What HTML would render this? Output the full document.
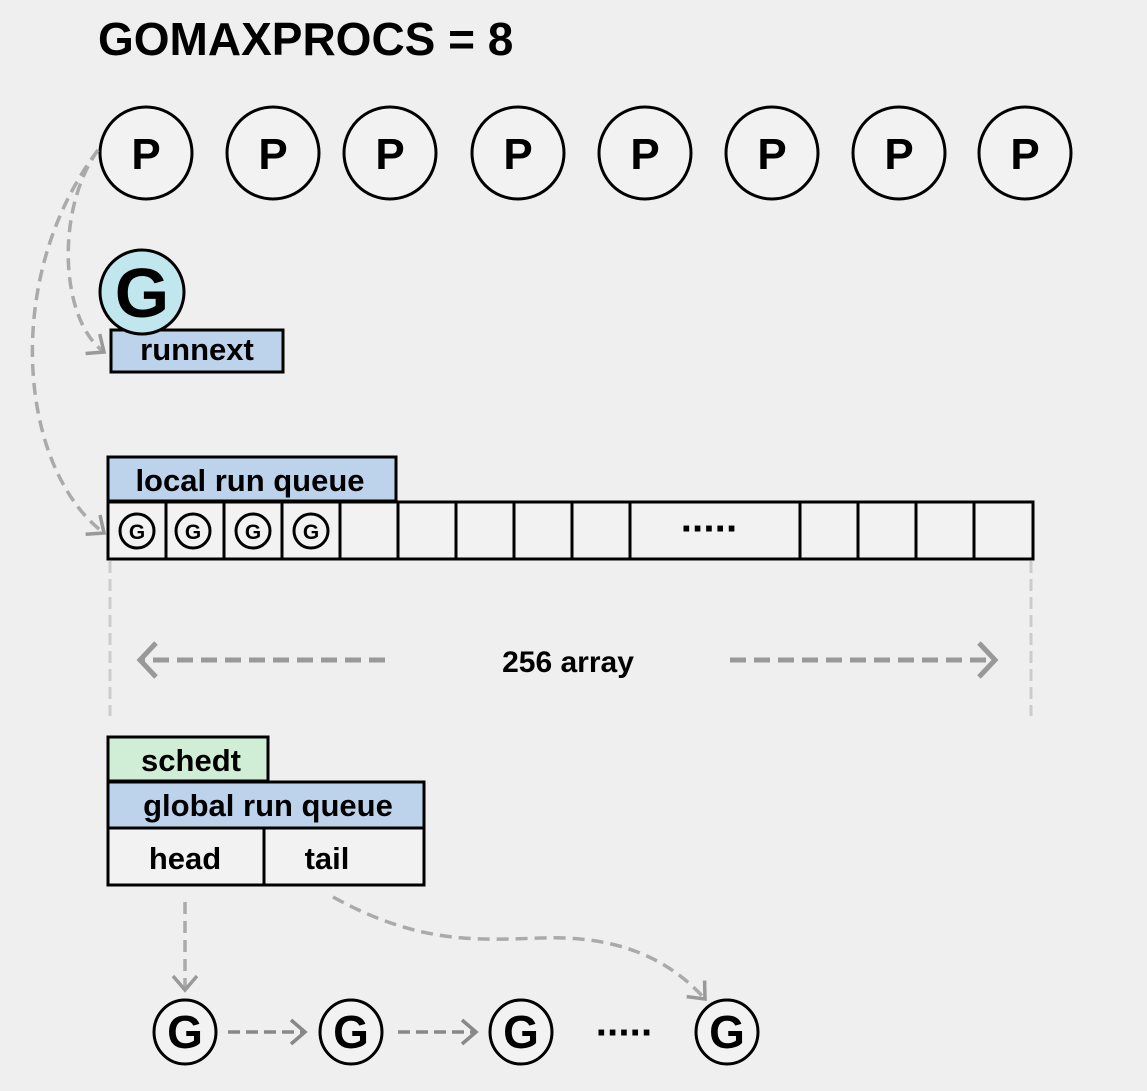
<!DOCTYPE html>
<html><head><style>
html,body{margin:0;padding:0;background:#efefef;}
svg{display:block;}
text{font-family:"Liberation Sans",Arial,sans-serif;font-weight:bold;fill:#000;}
</style></head><body>
<svg width="1147" height="1091" viewBox="0 0 1147 1091" xmlns="http://www.w3.org/2000/svg">
<defs>
<marker id="ah2" markerWidth="26" markerHeight="40" refX="20" refY="20" orient="auto" markerUnits="userSpaceOnUse" viewBox="0 0 26 40">
<path d="M4,3 L20,20 L4,37" fill="none" stroke="#999" stroke-width="5"/></marker>
<marker id="ah3" markerWidth="24" markerHeight="30" refX="18" refY="15" orient="auto" markerUnits="userSpaceOnUse" viewBox="0 0 24 30">
<path d="M4,3 L18,15 L4,27" fill="none" stroke="#999" stroke-width="3.5"/></marker>
<marker id="ah4" markerWidth="24" markerHeight="30" refX="18" refY="15" orient="auto" markerUnits="userSpaceOnUse" viewBox="0 0 24 30">
<path d="M4,3 L18,15 L4,27" fill="none" stroke="#888" stroke-width="3.5"/></marker>
</defs>
<rect width="1147" height="1091" fill="#efefef"/>
<text x="98" y="55" font-size="46">GOMAXPROCS = 8</text>
<g stroke="#000" stroke-width="3" fill="#f2f2f2">
<circle cx="146" cy="153" r="46"/><circle cx="273" cy="153" r="46"/><circle cx="390" cy="153" r="46"/><circle cx="518" cy="153" r="46"/>
<circle cx="645" cy="153" r="46"/><circle cx="772" cy="153" r="46"/><circle cx="899" cy="153" r="46"/><circle cx="1025" cy="153" r="46"/>
</g>
<g font-size="44" text-anchor="middle">
<text x="146" y="169">P</text><text x="273" y="169">P</text><text x="390" y="169">P</text><text x="518" y="169">P</text>
<text x="645" y="169">P</text><text x="772" y="169">P</text><text x="899" y="169">P</text><text x="1025" y="169">P</text>
</g>
<path d="M98,150 C55,210 60,320 104,352" fill="none" stroke="#aaa" stroke-width="3.5" stroke-dasharray="12,7" marker-end="url(#ah3)"/>
<path d="M98,150 C0,280 20,470 104,533" fill="none" stroke="#aaa" stroke-width="3.5" stroke-dasharray="12,7" marker-end="url(#ah3)"/>
<rect x="111" y="330" width="172" height="42" fill="#bdd3ec" stroke="#000" stroke-width="3"/>
<text x="197" y="360" font-size="31" text-anchor="middle">runnext</text>
<circle cx="142" cy="292" r="42" fill="#c0e6ee" stroke="#000" stroke-width="3"/>
<text x="142" y="317" font-size="70" text-anchor="middle">G</text>
<rect x="108" y="457" width="288" height="44" fill="#bdd3ec" stroke="#000" stroke-width="3"/>
<text x="250" y="491" font-size="31" text-anchor="middle">local run queue</text>
<rect x="108" y="502" width="925" height="57" fill="#f2f2f2" stroke="#000" stroke-width="3"/>
<g stroke="#000" stroke-width="3">
<line x1="166" y1="502" x2="166" y2="559"/><line x1="224" y1="502" x2="224" y2="559"/><line x1="282" y1="502" x2="282" y2="559"/>
<line x1="340" y1="502" x2="340" y2="559"/><line x1="398" y1="502" x2="398" y2="559"/><line x1="456" y1="502" x2="456" y2="559"/>
<line x1="514" y1="502" x2="514" y2="559"/><line x1="572" y1="502" x2="572" y2="559"/><line x1="630" y1="502" x2="630" y2="559"/>
<line x1="800" y1="502" x2="800" y2="559"/><line x1="858" y1="502" x2="858" y2="559"/><line x1="916" y1="502" x2="916" y2="559"/>
<line x1="974" y1="502" x2="974" y2="559"/>
</g>
<g stroke="#000" stroke-width="3" fill="none">
<circle cx="137" cy="531" r="17"/><circle cx="193" cy="531" r="17"/><circle cx="253" cy="531" r="17"/><circle cx="311" cy="531" r="17"/>
</g>
<g font-size="21" text-anchor="middle" style="font-weight:normal">
<text x="137" y="539">G</text><text x="193" y="539">G</text><text x="253" y="539">G</text><text x="311" y="539">G</text>
</g>
<text x="709" y="542" font-size="40" text-anchor="middle" letter-spacing="-2">·····</text>
<g stroke="#ccc" stroke-width="3" stroke-dasharray="12,6">
<line x1="110" y1="561" x2="110" y2="716"/><line x1="1031" y1="561" x2="1031" y2="716"/>
</g>
<line x1="385" y1="660" x2="140" y2="660" stroke="#999" stroke-width="5" stroke-dasharray="16,8" marker-end="url(#ah2)"/>
<line x1="730" y1="660" x2="995" y2="660" stroke="#999" stroke-width="5" stroke-dasharray="16,8" marker-end="url(#ah2)"/>
<text x="568" y="672" font-size="30" text-anchor="middle">256 array</text>
<rect x="108" y="737" width="160" height="44" fill="#d0eed6" stroke="#000" stroke-width="3"/>
<text x="191" y="771" font-size="31" text-anchor="middle">schedt</text>
<rect x="108" y="782" width="316" height="46" fill="#bdd3ec" stroke="#000" stroke-width="3"/>
<text x="268" y="816" font-size="31" text-anchor="middle">global run queue</text>
<rect x="108" y="828" width="316" height="57" fill="#f2f2f2" stroke="#000" stroke-width="3"/>
<line x1="264" y1="828" x2="264" y2="885" stroke="#000" stroke-width="3"/>
<text x="185" y="869" font-size="31" text-anchor="middle">head</text>
<text x="327" y="869" font-size="31" text-anchor="middle">tail</text>
<line x1="185" y1="902" x2="185" y2="990" stroke="#aaa" stroke-width="3.5" stroke-dasharray="12,7" marker-end="url(#ah3)"/>
<path d="M333,897 C420,945 480,940 540,938 C620,935 670,960 705,999" fill="none" stroke="#aaa" stroke-width="3.5" stroke-dasharray="12,7" marker-end="url(#ah3)"/>
<g stroke="#000" stroke-width="3" fill="#f2f2f2">
<ellipse cx="185" cy="1032" rx="31" ry="32"/><ellipse cx="351" cy="1032" rx="31" ry="32"/>
<ellipse cx="521" cy="1032" rx="31" ry="32"/><ellipse cx="727" cy="1032" rx="31" ry="32"/>
</g>
<g font-size="46" text-anchor="middle">
<text x="185" y="1048">G</text><text x="351" y="1048">G</text><text x="521" y="1048">G</text><text x="727" y="1048">G</text>
</g>
<line x1="228" y1="1032" x2="305" y2="1032" stroke="#888" stroke-width="3.5" stroke-dasharray="12,6" marker-end="url(#ah4)"/>
<line x1="398" y1="1032" x2="476" y2="1032" stroke="#888" stroke-width="3.5" stroke-dasharray="12,6" marker-end="url(#ah4)"/>
<text x="624" y="1046" font-size="40" text-anchor="middle" letter-spacing="-2">·····</text>
</svg>
</body></html>
